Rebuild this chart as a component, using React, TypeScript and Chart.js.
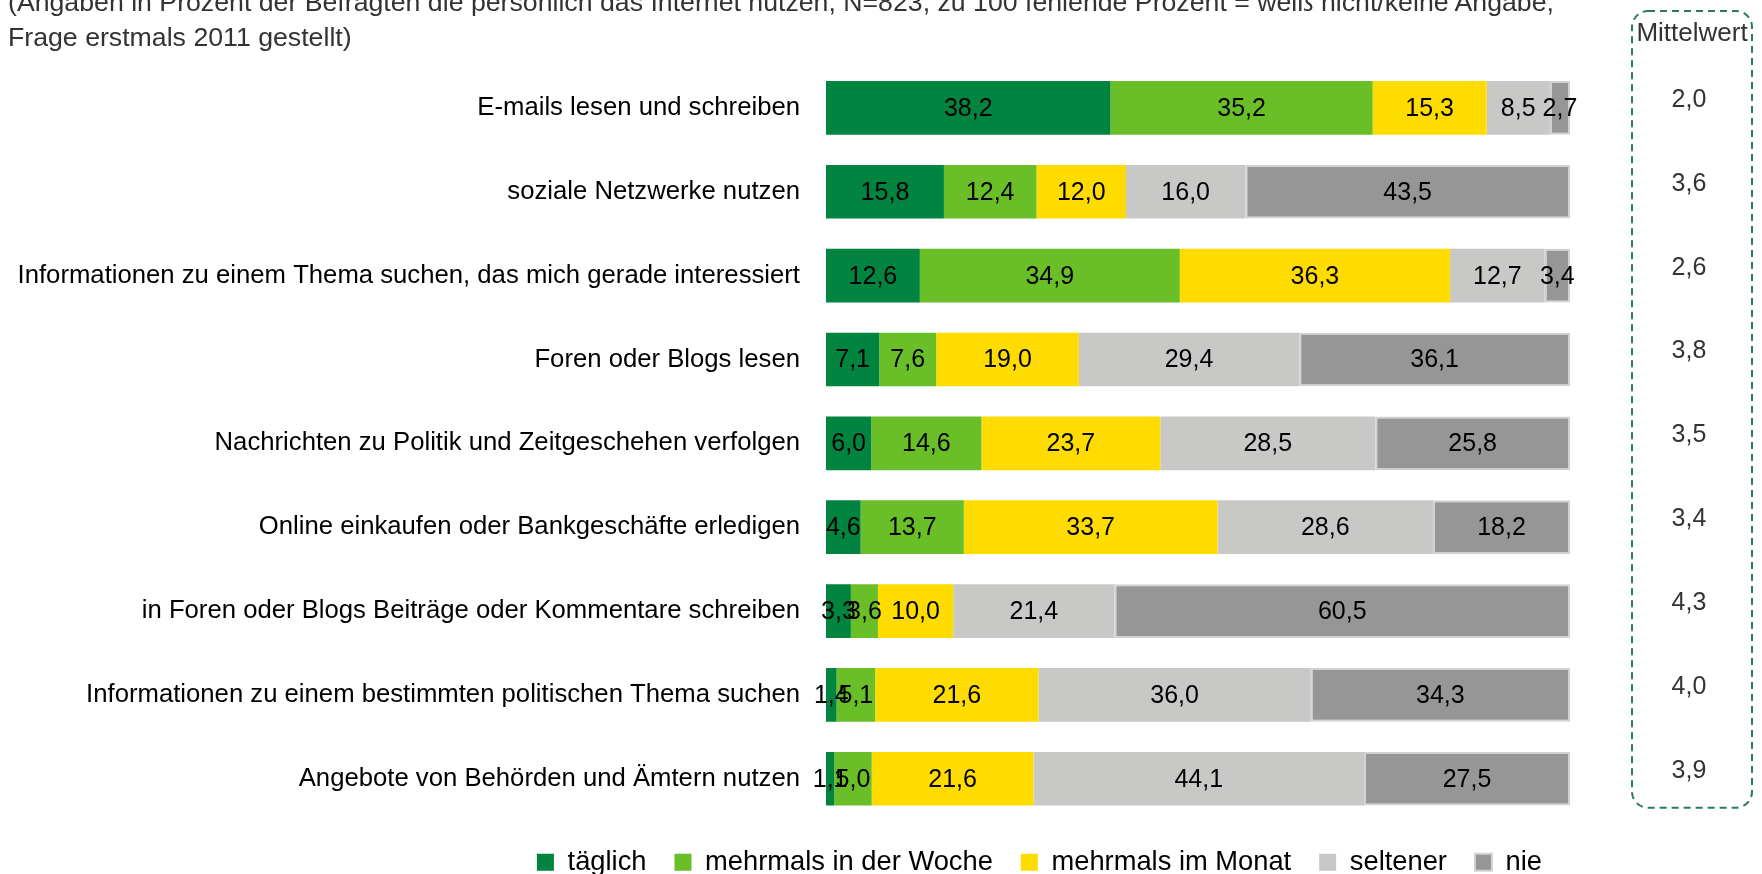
import React, { useEffect, useRef } from "react";
import { Chart, registerables } from "chart.js";

Chart.register(...registerables);

const categories = [
  "E-mails lesen und schreiben",
  "soziale Netzwerke nutzen",
  "Informationen zu einem Thema suchen, das mich gerade interessiert",
  "Foren oder Blogs lesen",
  "Nachrichten zu Politik und Zeitgeschehen verfolgen",
  "Online einkaufen oder Bankgeschäfte erledigen",
  "in Foren oder Blogs Beiträge oder Kommentare schreiben",
  "Informationen zu einem bestimmten politischen Thema suchen",
  "Angebote von Behörden und Ämtern nutzen",
];

const seriesNames = ["täglich", "mehrmals in der Woche", "mehrmals im Monat", "seltener", "nie"];

const taeglich = [38.2, 15.8, 12.6, 7.1, 6.0, 4.6, 3.3, 1.4, 1.1];
const mehrmalsWoche = [35.2, 12.4, 34.9, 7.6, 14.6, 13.7, 3.6, 5.1, 5.0];
const mehrmalsMonat = [15.3, 12.0, 36.3, 19.0, 23.7, 33.7, 10.0, 21.6, 21.6];
const seltener = [8.5, 16.0, 12.7, 29.4, 28.5, 28.6, 21.4, 36.0, 44.1];
const nie = [2.7, 43.5, 3.4, 36.1, 25.8, 18.2, 60.5, 34.3, 27.5];

const mittelwert = [2.0, 3.6, 2.6, 3.8, 3.5, 3.4, 4.3, 4.0, 3.9];

const titleLine1 =
  "(Angaben in Prozent der Befragten die persönlich das Internet nutzen, N=823, zu 100 fehlende Prozent = weiß nicht/keine Angabe,";
const titleLine2 = "Frage erstmals 2011 gestellt)";
const mittelwertTitle = "Mittelwert";

const colors = ["#00843F", "#6ABE28", "#FFDC00", "#C8C8C6", "#969696"];

const FONT = "'Liberation Sans', Arial, Helvetica, sans-serif";

const fmt = (v: number) => v.toFixed(1).replace(".", ",");

export default function App() {
  const canvasRef = useRef<HTMLCanvasElement | null>(null);

  useEffect(() => {
    if (!canvasRef.current) return;
    const series = [taeglich, mehrmalsWoche, mehrmalsMonat, seltener, nie];
    const rowSums = categories.map((_, i) => series.reduce((s, arr) => s + arr[i], 0));

    const datasets = series.map((arr, si) => ({
      label: seriesNames[si],
      data: arr.map((v, i) => (v / rowSums[i]) * 100),
      raw: arr,
      backgroundColor: colors[si],
      borderColor: si === 4 ? "#D2D2D2" : colors[si],
      borderWidth: si === 4 ? 2 : 0,
      borderSkipped: false,
      categoryPercentage: 1,
      barPercentage: 0.64,
    }));

    const valueLabels = {
      id: "valueLabels",
      afterDatasetsDraw(chart: any) {
        const ctx = chart.ctx;
        ctx.save();
        ctx.font = `25px ${FONT}`;
        ctx.fillStyle = "#000";
        ctx.textAlign = "center";
        ctx.textBaseline = "middle";
        chart.data.datasets.forEach((ds: any, di: number) => {
          const meta = chart.getDatasetMeta(di);
          meta.data.forEach((el: any, i: number) => {
            const cx = (el.x + el.base) / 2;
            ctx.fillText(fmt(ds.raw[i]), cx, el.y + 1);
          });
        });
        ctx.restore();
      },
    };

    const meanBox = {
      id: "meanBox",
      afterDraw(chart: any) {
        const ctx = chart.ctx;
        const area = chart.chartArea;
        const yScale = chart.scales.y;
        const left = area.right + 62;
        const right = chart.width - 10;
        const top = 11;
        const bottom = area.bottom - 13;
        const cx = (left + right) / 2;
        ctx.save();
        ctx.strokeStyle = "#2A7A5E";
        ctx.lineWidth = 2;
        ctx.setLineDash([7, 5]);
        ctx.beginPath();
        ctx.roundRect(left, top, right - left, bottom - top, 16);
        ctx.stroke();
        ctx.setLineDash([]);
        ctx.fillStyle = "#333";
        ctx.textAlign = "center";
        ctx.textBaseline = "middle";
        ctx.font = `26px ${FONT}`;
        ctx.fillText(mittelwertTitle, cx, 34);
        ctx.font = `25px ${FONT}`;
        mittelwert.forEach((m, i) => {
          const y = yScale.getPixelForValue(i) - 8;
          ctx.fillText(fmt(m), cx - 3, y);
        });
        ctx.restore();
      },
    };

    const chart = new Chart(canvasRef.current, {
      type: "bar",
      data: { labels: categories, datasets: datasets as any },
      options: {
        indexAxis: "y",
        responsive: false,
        animation: false,
        maintainAspectRatio: false,
        layout: { padding: { left: 0, right: 192, top: 66, bottom: 0 } },
        scales: {
          x: { stacked: true, min: 0, max: 100, display: false },
          y: {
            stacked: true,
            grid: { display: false, drawTicks: false },
            border: { display: false },
            ticks: {
              padding: 26,
              color: "#000",
              font: { family: FONT, size: 25.7 },
            },
            afterFit(scale: any) {
              scale.width = 826;
            },
          },
        },
        plugins: {
          legend: {
            position: "bottom",
            align: "end",
            labels: {
              boxWidth: 17,
              boxHeight: 17,
              padding: 28,
              color: "#000",
              font: { family: FONT, size: 27.3 },
            },
          },
          title: { display: false },
          tooltip: { enabled: false },
        },
      },
      plugins: [valueLabels, meanBox],
    });
    return () => chart.destroy();
  }, []);

  return (
    <div
      style={{
        position: "fixed",
        left: 0,
        top: 0,
        width: 1762,
        height: 874,
        overflow: "hidden",
        background: "#fff",
      }}
    >
      <canvas ref={canvasRef} width={1762} height={886} style={{ position: "absolute", left: 0, top: 0 }} />
      <div
        style={{
          position: "absolute",
          left: 8,
          top: -15,
          fontFamily: FONT,
          fontSize: 26.7,
          lineHeight: "35px",
          color: "#333",
          whiteSpace: "nowrap",
        }}
      >
        <div>{titleLine1}</div>
        <div>{titleLine2}</div>
      </div>
    </div>
  );
}
